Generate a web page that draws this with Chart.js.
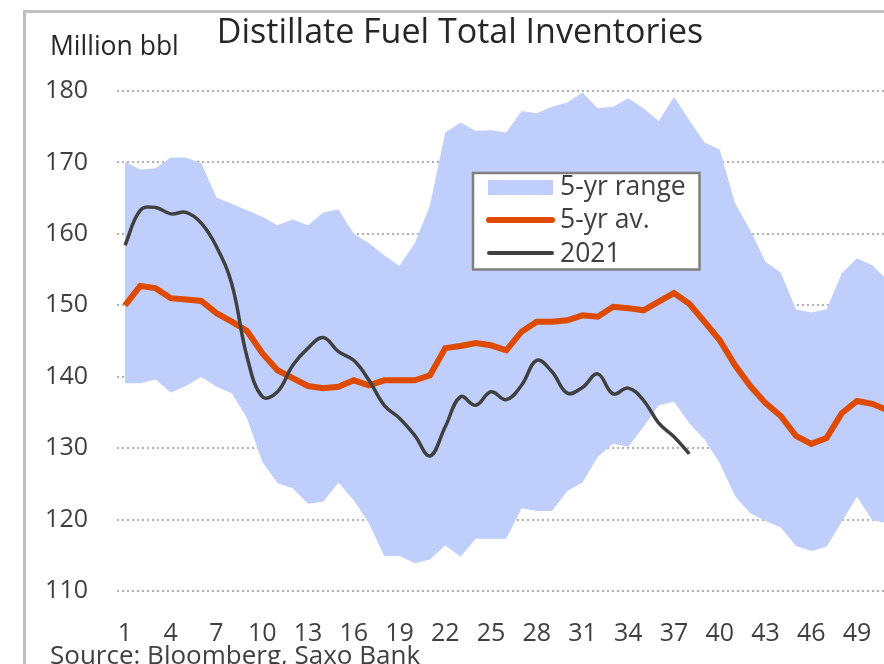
<!DOCTYPE html>
<html>
<head>
<meta charset="utf-8">
<script src="https://cdn.jsdelivr.net/npm/chart.js@4"></script>
<style>
  body { margin: 0; background: #fff; }
  #wrap { position: relative; width: 884px; height: 664px; }
</style>
</head>
<body>
<div id="wrap"><canvas id="myChart"></canvas></div>
<script>
// weekly data, million barrels
const weeks = Array.from({ length: 51 }, (_, i) => i + 1)
const weekTicks = [1, 4, 7, 10, 13, 16, 19, 22, 25, 28, 31, 34, 37, 40, 43, 46, 49]

const rangeHigh = [170.1, 169.0, 169.2, 170.7, 170.7, 169.9, 165.1, 164.2, 163.3, 162.4,
  161.2, 162.0, 161.2, 163.0, 163.4, 160.0, 158.7, 157.0, 155.5, 158.7,
  164.0, 174.2, 175.6, 174.4, 174.5, 174.2, 177.2, 176.9, 177.8, 178.4,
  179.8, 177.6, 177.8, 179.0, 177.6, 175.8, 179.2, 175.9, 172.8, 171.8,
  164.3, 160.5, 156.1, 154.6, 149.4, 149.0, 149.4, 154.5, 156.6, 155.6, 153.5]

const rangeLow = [139.1, 139.1, 139.6, 137.8, 138.7, 140.0, 138.6, 137.7, 134.2, 128.1,
  125.1, 124.4, 122.2, 122.5, 125.2, 122.7, 119.5, 114.9, 114.9, 113.9,
  114.4, 116.4, 114.8, 117.3, 117.3, 117.3, 121.6, 121.2, 121.2, 124.0,
  125.2, 128.8, 130.6, 130.2, 133.0, 136.0, 136.5, 133.5, 131.2, 127.9,
  123.3, 120.9, 119.8, 118.9, 116.3, 115.6, 116.2, 119.7, 123.2, 119.9, 119.5]

const avg5yr = [150.0, 152.7, 152.4, 151.0, 150.8, 150.6, 148.9, 147.7, 146.4, 143.3,
  140.9, 139.8, 138.7, 138.4, 138.6, 139.5, 138.8, 139.5, 139.5, 139.5,
  140.2, 144.0, 144.3, 144.7, 144.4, 143.7, 146.3, 147.7, 147.7, 147.9,
  148.6, 148.4, 149.8, 149.6, 149.3, 150.5, 151.7, 150.2, 147.7, 145.1,
  141.6, 138.7, 136.3, 134.5, 131.7, 130.6, 131.4, 134.9, 136.6, 136.2, 135.3]

const y2021 = [158.4, 163.3, 163.7, 162.8, 163.0, 161.5, 158.2, 153.0, 142.8, 137.2,
  137.9, 141.6, 144.0, 145.5, 143.5, 142.3, 139.5, 136.0, 134.2, 131.8,
  128.9, 133.0, 137.2, 136.0, 137.9, 136.8, 138.8, 142.3, 140.7, 137.7,
  138.5, 140.4, 137.6, 138.4, 136.7, 133.5, 131.6, 129.2]

const yTicks = [110, 120, 130, 140, 150, 160, 170, 180]

const BLUE = '#bfcefb'
const ORANGE = '#dd4a00'
const DARK = '#404040'
const FONT = "'Open Sans', 'Noto Sans', sans-serif"

const pts = arr => arr.map((v, i) => ({ x: weeks[i], y: v }))

// frame, titles and the boxed legend
const decorations = {
  id: 'decorations',
  beforeDraw (chart) {
    const ctx = chart.ctx
    ctx.save()
    ctx.strokeStyle = '#c0c0c0'
    ctx.lineWidth = 3
    ctx.beginPath()
    ctx.moveTo(24.5, 664)
    ctx.lineTo(24.5, 11.5)
    ctx.lineTo(884, 11.5)
    ctx.stroke()
    ctx.restore()
  },
  afterDraw (chart) {
    const ctx = chart.ctx
    ctx.save()
    ctx.textBaseline = 'alphabetic'
    ctx.fillStyle = '#262626'
    ctx.textAlign = 'center'
    ctx.font = '34px ' + FONT
    ctx.fillText('Distillate Fuel Total Inventories', 460, 43)
    ctx.textAlign = 'left'
    ctx.font = '26.5px ' + FONT
    ctx.fillText('Million bbl', 50, 55)
    ctx.fillStyle = DARK
    ctx.font = '26px ' + FONT
    ctx.fillText('Source: Bloomberg, Saxo Bank', 50, 664)

    // legend
    ctx.fillStyle = '#fff'
    ctx.fillRect(473, 173, 226.5, 96.5)
    ctx.strokeStyle = '#808080'
    ctx.lineWidth = 2.5
    ctx.strokeRect(473, 173, 226.5, 96.5)
    ctx.fillStyle = BLUE
    ctx.fillRect(488, 180, 65, 15)
    ctx.lineCap = 'round'
    ctx.strokeStyle = ORANGE
    ctx.lineWidth = 6
    ctx.beginPath(); ctx.moveTo(489, 220); ctx.lineTo(552, 220); ctx.stroke()
    ctx.strokeStyle = DARK
    ctx.lineWidth = 4
    ctx.beginPath(); ctx.moveTo(489, 253); ctx.lineTo(552, 253); ctx.stroke()
    ctx.fillStyle = DARK
    ctx.font = '26.5px ' + FONT
    ctx.fillText('5-yr range', 560, 195)
    ctx.fillText('5-yr av.', 560, 228)
    ctx.fillText('2021', 560, 261.5)
    ctx.restore()
  }
}

const ctx = document.getElementById('myChart').getContext('2d')
const chart = new Chart(ctx, {
  type: 'line',
  data: {
    datasets: [
      {
        label: '2021',
        data: pts(y2021),
        borderColor: DARK,
        borderWidth: 3.5,
        tension: 0.4,
        pointRadius: 0,
        fill: false,
        order: 0
      },
      {
        label: '5-yr av.',
        data: pts(avg5yr),
        borderColor: ORANGE,
        borderWidth: 6,
        pointRadius: 0,
        fill: false,
        order: 1
      },
      {
        label: '5-yr range',
        data: pts(rangeHigh),
        borderWidth: 0,
        borderColor: 'rgba(0,0,0,0)',
        backgroundColor: BLUE,
        pointRadius: 0,
        fill: '+1',
        order: 2
      },
      {
        label: 'low',
        data: pts(rangeLow),
        borderWidth: 0,
        borderColor: 'rgba(0,0,0,0)',
        pointRadius: 0,
        fill: false,
        order: 3
      }
    ]
  },
  options: {
    responsive: true,
    maintainAspectRatio: false,
    animation: false,
    events: [],
    layout: { padding: { top: 91, left: 0, right: 0, bottom: 0 } },
    plugins: {
      legend: { display: false },
      tooltip: { enabled: false },
      title: { display: false }
    },
    scales: {
      x: {
        type: 'linear',
        min: 0.475,
        max: 50.77,
        grid: { display: false },
        border: { display: false },
        afterBuildTicks: axis => { axis.ticks = weekTicks.map(v => ({ value: v })) },
        afterFit: axis => {
          axis.height = 73
          axis.paddingLeft = 0
          axis.paddingRight = 0
        },
        ticks: {
          autoSkip: false,
          maxRotation: 0,
          padding: 20,
          color: DARK,
          font: { family: FONT, size: 25 }
        }
      },
      y: {
        min: 110,
        max: 180,
        afterBuildTicks: axis => { axis.ticks = yTicks.map(v => ({ value: v })) },
        afterFit: axis => { axis.width = 117 },
        grid: { color: '#b0b0b0', lineWidth: 2, drawTicks: false },
        border: { display: false, dash: [2, 3] },
        ticks: {
          padding: 29,
          color: DARK,
          font: { family: FONT, size: 25 }
        }
      }
    }
  },
  plugins: [decorations]
})
</script>
</body>
</html>
